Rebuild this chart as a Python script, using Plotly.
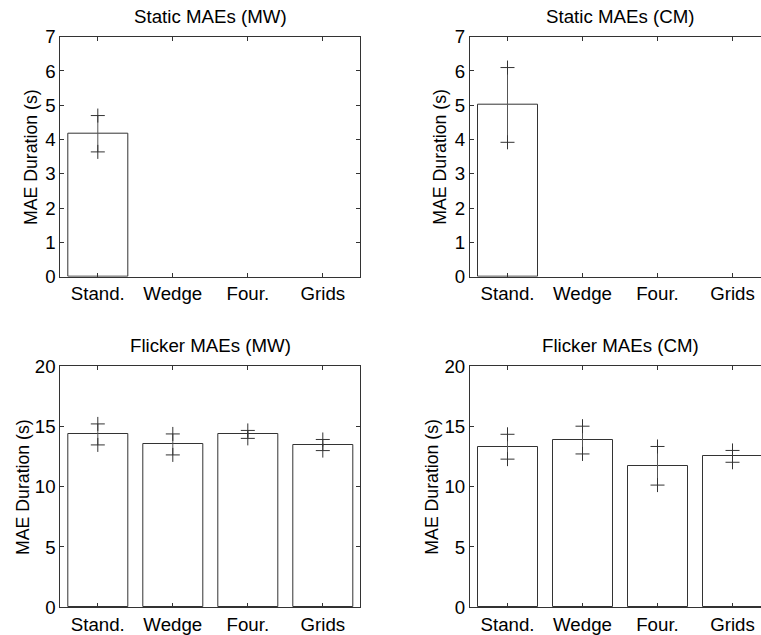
import plotly.graph_objects as go

categories = ["Stand.", "Wedge", "Four.", "Grids"]

static_mw_mean = [4.17, None, None, None]
static_mw_err = [0.53, None, None, None]
static_cm_mean = [5.01, None, None, None]
static_cm_err = [1.09, None, None, None]

flicker_mw_mean = [14.33, 13.5, 14.33, 13.45]
flicker_mw_err = [0.87, 0.87, 0.33, 0.46]
flicker_cm_mean = [13.31, 13.86, 11.73, 12.51]
flicker_cm_err = [1.03, 1.15, 1.6, 0.49]

titles = ["Static MAEs (MW)", "Static MAEs (CM)", "Flicker MAEs (MW)", "Flicker MAEs (CM)"]
ylabel = "MAE Duration (s)"
static_ticks = [0, 1, 2, 3, 4, 5, 6, 7]
flicker_ticks = [0, 5, 10, 15, 20]

W, H = 761, 635
FONT = "Liberation Sans, Arial, Helvetica, sans-serif"
LINE = "#333333"

# panel pixel boxes: (left, right, top, bottom)
panels = [
    (60.3, 360.3, 36.7, 276.7),
    (470.0, 761.0, 36.7, 276.7),
    (60.3, 360.3, 366.0, 607.3),
    (470.0, 761.0, 366.0, 607.3),
]
means = [static_mw_mean, static_cm_mean, flicker_mw_mean, flicker_cm_mean]
errs = [static_mw_err, static_cm_err, flicker_mw_err, flicker_cm_err]
yranges = [[0, 7], [0, 7], [0, 20], [0, 20]]
yticks = [static_ticks, static_ticks, flicker_ticks, flicker_ticks]
unit_px = 75.0

fig = go.Figure()
annotations = []
for i, (l, r, t, b) in enumerate(panels):
    n = "" if i == 0 else str(i + 1)
    xa, ya = "x" + n, "y" + n
    xs = [1, 2, 3, 4]
    fig.add_trace(go.Bar(
        x=xs, y=means[i], width=0.8, xaxis=xa, yaxis=ya,
        marker=dict(color="white", line=dict(color=LINE, width=1)),
        showlegend=False, hoverinfo="skip",
    ))
    ex, ey = [], []
    mx, my = [], []
    for xv, m, e in zip(xs, means[i], errs[i]):
        if m is None:
            continue
        ex += [xv, xv, None]
        ey += [m - e, m + e, None]
        mx += [xv, xv]
        my += [m - e, m + e]
    fig.add_trace(go.Scatter(
        x=ex, y=ey, mode="lines", xaxis=xa, yaxis=ya,
        line=dict(color="#555555", width=1), showlegend=False, hoverinfo="skip",
        cliponaxis=True,
    ))
    fig.add_trace(go.Scatter(
        x=mx, y=my, mode="markers", xaxis=xa, yaxis=ya,
        marker=dict(symbol="cross-thin", size=10, line=dict(color=LINE, width=1)),
        showlegend=False, hoverinfo="skip", cliponaxis=True,
    ))
    xr = [0.5, 0.5 + (r - l) / unit_px]
    fig.update_layout(**{
        ("xaxis" + n): dict(
            domain=[l / W, r / W], range=xr, anchor=ya,
            tickvals=xs, ticktext=categories, ticks="inside", ticklen=4,
            tickcolor=LINE, showline=True, linecolor=LINE, linewidth=1,
            mirror="ticks", showgrid=False, zeroline=False, automargin=False,
            tickfont=dict(family=FONT, size=18.7, color="black"), fixedrange=True,
        ),
        ("yaxis" + n): dict(
            domain=[(H - b) / H, (H - t) / H], range=yranges[i], anchor=xa,
            tickvals=yticks[i], ticks="inside", ticklen=4, tickcolor=LINE,
            showline=True, linecolor=LINE, linewidth=1,
            mirror=("ticks" if i % 2 == 0 else False),
            showgrid=False, zeroline=False, automargin=False,
            tickfont=dict(family=FONT, size=18.7, color="black"), fixedrange=True,
        ),
    })
    annotations.append(dict(
        text=titles[i], xref="paper", yref="paper",
        x=((l + (r if i % 2 == 0 else l + 300)) / 2) / W, y=(H - (t - 20.5)) / H,
        xanchor="center", yanchor="middle", showarrow=False,
        font=dict(family=FONT, size=18.7, color="black"),
    ))
    off = 30 if i < 2 else 38
    annotations.append(dict(
        text=ylabel, xref="paper", yref="paper",
        x=(l - off) / W, y=(H - (t + b) / 2) / H, textangle=-90,
        xanchor="center", yanchor="middle", showarrow=False,
        font=dict(family=FONT, size=17.7, color="black"),
    ))

fig.update_layout(
    width=W, height=H, margin=dict(l=0, r=0, t=0, b=0),
    paper_bgcolor="white", plot_bgcolor="white",
    annotations=annotations, bargap=0,
)
fig.write_html("out.html")
